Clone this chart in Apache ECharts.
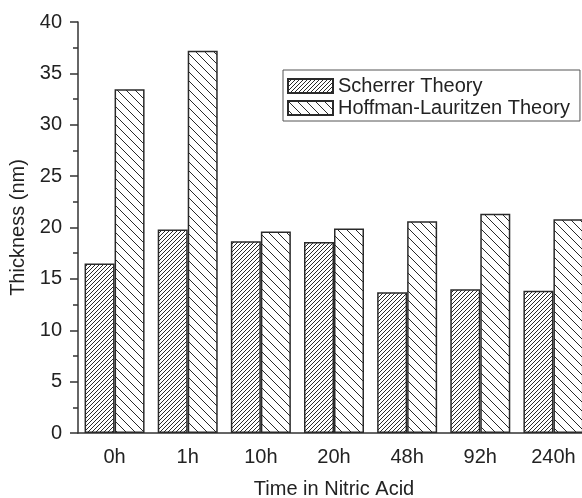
<!DOCTYPE html>
<html>
<head>
<meta charset="utf-8">
<script src="https://cdn.jsdelivr.net/npm/echarts@6/dist/echarts.min.js"></script>
<style>
html,body{margin:0;padding:0;background:#fff;}
#chart{width:582px;height:498px;}
</style>
</head>
<body>
<div id="chart"></div>
<script>
const categories = ['0h', '1h', '10h', '20h', '48h', '92h', '240h'];
const scherrer = [16.5, 19.8, 18.65, 18.6, 13.7, 14.0, 13.85];
const hoffman = [33.45, 37.2, 19.6, 19.9, 20.6, 21.35, 20.8];
const seriesNames = ['Scherrer Theory', 'Hoffman-Lauritzen Theory'];
const yTicks = { min: 0, max: 40, interval: 5 };

function makePattern(period, forward) {
  const c = document.createElement('canvas');
  c.width = period; c.height = period;
  const ctx = c.getContext('2d');
  ctx.fillStyle = '#fff';
  ctx.fillRect(0, 0, period, period);
  ctx.strokeStyle = '#2a2a2a';
  ctx.lineWidth = 1;
  ctx.beginPath();
  for (let k = -1; k <= 1; k++) {
    if (forward) {
      ctx.moveTo(k * period, period);
      ctx.lineTo(k * period + period, 0);
    } else {
      ctx.moveTo(k * period, 0);
      ctx.lineTo(k * period + period, period);
    }
  }
  ctx.stroke();
  return { image: c, repeat: 'repeat' };
}

const font = 'Liberation Sans, Arial, sans-serif';
const txt = '#222';
const chart = echarts.init(document.getElementById('chart'), null, { renderer: 'canvas' });
chart.setOption({
  animation: false,
  backgroundColor: '#fff',
  grid: { left: 78, top: 22, width: 512, bottom: 65, containLabel: false, outerBoundsMode: 'none' },
  legend: {
    orient: 'vertical',
    left: 283, top: 70,
    padding: [6, 10, 3, 4],
    icon: 'rect',
    itemWidth: 45, itemHeight: 14, itemGap: 2,
    borderColor: '#555', borderWidth: 1,
    textStyle: { fontFamily: font, fontSize: 20, color: txt },
    data: seriesNames
  },
  xAxis: [{
    type: 'category',
    data: categories,
    name: 'Time in Nitric Acid',
    nameLocation: 'middle',
    nameGap: 46,
    nameTextStyle: { fontFamily: font, fontSize: 20, color: txt },
    axisLine: { lineStyle: { color: '#333', width: 1.5 } },
    axisTick: { alignWithLabel: true, length: 7, interval: 0, lineStyle: { color: '#333', width: 1.5 } },
    axisLabel: { fontFamily: font, fontSize: 20, color: txt, margin: 14, interval: 0 }
  }, {
    type: 'category',
    data: categories,
    position: 'bottom',
    axisLine: { show: false },
    axisTick: { alignWithLabel: false, length: 4, interval: 0, lineStyle: { color: '#333', width: 1.5 } },
    axisLabel: { show: false }
  }],
  yAxis: {
    type: 'value',
    min: yTicks.min, max: yTicks.max, interval: yTicks.interval,
    name: 'Thickness (nm)',
    nameLocation: 'middle',
    nameGap: 50,
    nameTextStyle: { fontFamily: font, fontSize: 20, color: txt },
    axisLine: { show: true, lineStyle: { color: '#333', width: 1.5 } },
    axisTick: { show: true, length: 8, lineStyle: { color: '#333', width: 1.5 } },
    minorTick: { show: true, splitNumber: 2, length: 5, lineStyle: { color: '#333', width: 1.5 } },
    splitLine: { show: false },
    axisLabel: { fontFamily: font, fontSize: 20, color: txt, margin: 16 }
  },
  series: [{
    name: seriesNames[0],
    type: 'bar',
    data: scherrer,
    barWidth: 30,
    barGap: '0%',
    itemStyle: { color: makePattern(4, true), borderColor: '#2a2a2a', borderWidth: 1.5 }
  }, {
    name: seriesNames[1],
    type: 'bar',
    data: hoffman,
    barWidth: 30,
    barGap: '0%',
    itemStyle: { color: makePattern(9, false), borderColor: '#2a2a2a', borderWidth: 1.5 }
  }]
});
</script>
</body>
</html>
